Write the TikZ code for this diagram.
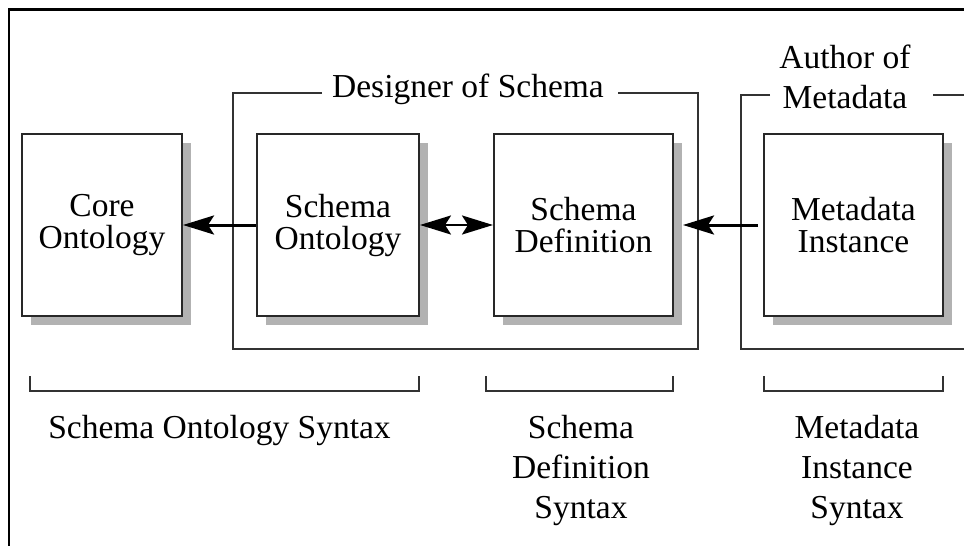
\documentclass[tikz,border=0pt]{standalone}
\usepackage{fontspec}
\setmainfont{Liberation Serif}
\usetikzlibrary{arrows.meta,shadows}
\definecolor{shadegray}{RGB}{178,178,178}
\definecolor{edge}{RGB}{40,40,40}
\definecolor{frameline}{RGB}{50,50,50}
\newcommand{\boxfont}{\fontsize{33.5}{32}\selectfont}
\newcommand{\labfont}{\fontsize{33.5}{40}\selectfont}
\tikzset{
  stage/.style={draw=edge, line width=2pt, fill=white, minimum height=182pt,
    inner sep=0pt, align=center, font=\boxfont,
    drop shadow={shadow xshift=9pt, shadow yshift=-9pt, fill=shadegray, opacity=1}},
  lbl/.style={inner sep=0pt, font=\labfont},
  lblstack/.style={inner sep=0pt, align=center, font=\labfont},
  group/.style={draw=frameline, line width=1.6pt},
  bracket/.style={draw=frameline, line width=1.6pt},
  head/.tip={Stealth[length=31pt 0 0, width=19pt 0 0, inset=6pt 0 0]},
  flow/.style={line width=3pt, -head},
  flowboth/.style={line width=2.6pt, head-head}
}
\begin{document}
\begin{tikzpicture}[x=1pt, y=-1pt]
  \useasboundingbox (0,0) rectangle (964,546);

  % outer frame (top and left edges)
  \draw[line width=2.4pt, black] (964,9.3) -- (9.2,9.3) -- (9.2,546);

  % role groups
  \draw[group] (322,93) -- (233,93) -- (233,349) -- (698,349) -- (698,93) -- (618,93);
  \node[lbl, anchor=base] (designer) at (468,97) {Designer of Schema};
  \draw[group] (770,95) -- (741,95) -- (741,349) -- (964,349);
  \draw[group] (933,95) -- (964,95);
  \node[lblstack] (author) at (845,76.5) {Author of\\Metadata};

  % stages
  \node[stage, minimum width=160pt] (core) at (102,225) {Core\\Ontology};
  \node[stage, minimum width=162pt] (sont) at (338,225) {Schema\\Ontology};
  \node[stage, minimum width=179pt] (sdef) at (583.5,225) {Schema\\Definition};
  \node[stage, minimum width=179pt] (meta) at (853.5,225) {Metadata\\Instance};

  % dependencies
  \draw[flow] (sont.west) -- (core.east);
  \draw[flowboth] (sont.east) -- (sdef.west);
  \draw[flow] ([xshift=-5pt]meta.west) -- ([xshift=9pt]sdef.east);

  % syntax ranges
  \draw[bracket] (30,376) -- (30,391) -- (419,391) -- (419,376);
  \draw[bracket] (486,376) -- (486,391) -- (673,391) -- (673,376);
  \draw[bracket] (764,376) -- (764,391) -- (943,391) -- (943,376);
  \node[lbl, anchor=base] (syn1) at (219.5,438) {Schema Ontology Syntax};
  \node[lblstack] (syn2) at (581,470) {Schema\\Definition\\Syntax};
  \node[lblstack] (syn3) at (857,470) {Metadata\\Instance\\Syntax};
\end{tikzpicture}
\end{document}
